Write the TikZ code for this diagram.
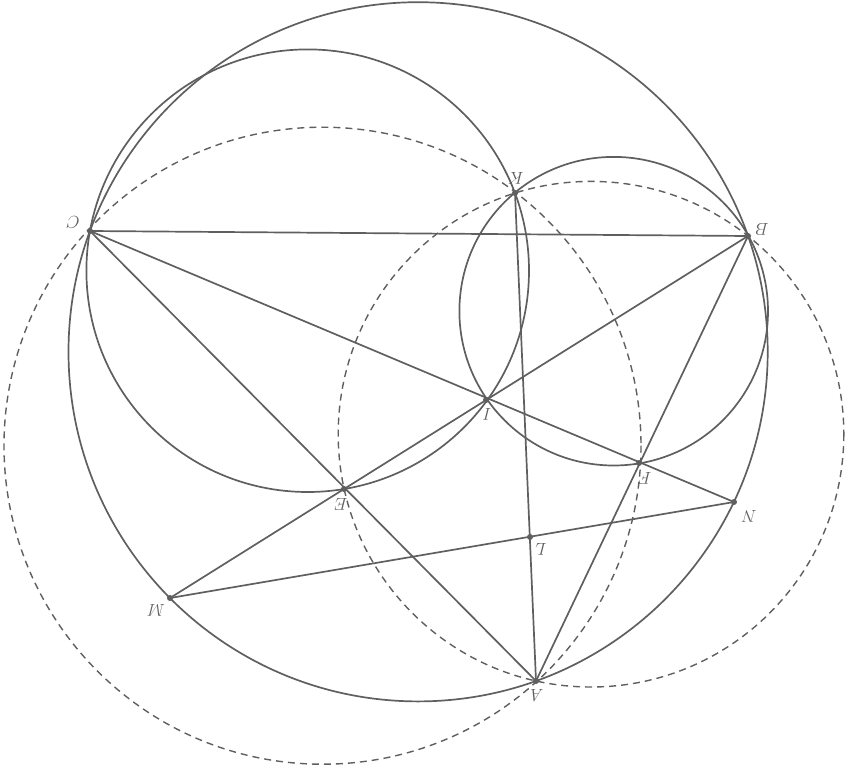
\documentclass[tikz,border=0pt]{standalone}
\usetikzlibrary{calc}
\definecolor{ink}{RGB}{95,95,95}
\begin{document}
\begin{tikzpicture}[x=1pt,y=-1pt,
  solidline/.style={draw=ink,line width=1.7pt},
  dashline/.style={draw=ink,line width=1.4pt,dash pattern=on 7pt off 5pt},
  pt/.style={circle,fill=ink,inner sep=0pt,minimum size=6pt},
  lab/.style={text=ink,rotate=180,font=\fontsize{19}{21}\selectfont,inner sep=1pt}]
\useasboundingbox (0,0) rectangle (850,770);
% points
\node[pt] (C) at (90,231) {};
\node[pt] (B) at (748,236) {};
\node[pt] (K) at (515,193) {};
\node[pt] (I) at (486,400) {};
\node[pt] (F) at (639,463) {};
\node[pt] (E) at (344,489) {};
\node[pt] (N) at (734,502) {};
\node[pt] (L) at (530,537) {};
\node[pt] (M) at (170,598) {};
\node[pt] (A) at (536,681) {};
% circles
\draw[solidline] (418.1,351.8) circle (349.6);
\draw[solidline] (307.7,270.7) circle (221.3);
\draw[solidline] (613.7,311.2) circle (154.3);
\draw[dashline] (322.5,445.7) circle (318.5);
\draw[dashline] (591,434.2) circle (252.8);
% lines
\draw[solidline] (C.center) -- (B.center);
\draw[solidline] (C.center) -- (A.center);
\draw[solidline] (B.center) -- (A.center);
\draw[solidline] (B.center) -- (M.center);
\draw[solidline] (C.center) -- (N.center);
\draw[solidline] (K.center) -- (A.center);
\draw[solidline] (M.center) -- (N.center);
% labels (printed upside down)
\node[lab] (lC) at (73,222) {$C$};
\node[lab] (lB) at (762,229) {$B$};
\node[lab] (lK) at (516,178) {$K$};
\node[lab] (lI) at (487,414) {$I$};
\node[lab] (lF) at (645,478) {$F$};
\node[lab] (lE) at (341,504) {$E$};
\node[lab] (lN) at (749,516) {$N$};
\node[lab] (lL) at (541,549) {$L$};
\node[lab] (lM) at (156,610) {$M$};
\node[lab] (lA) at (537,695) {$A$};
\end{tikzpicture}
\end{document}
